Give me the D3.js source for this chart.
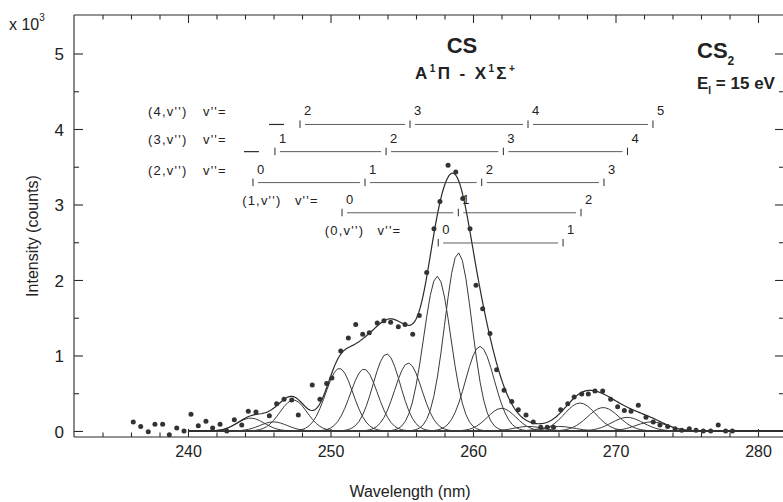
<!DOCTYPE html>
<html>
<head>
<meta charset="utf-8">
<script src="https://cdn.jsdelivr.net/npm/d3@7"></script>
<style>
  body { margin: 0; background: #fff; }
  svg { display: block; }
  text { font-family: "Liberation Sans", Arial, Helvetica, sans-serif; fill: #222; }
</style>
</head>
<body>
<svg id="chart" width="783" height="502"></svg>
<script>
// Measured emission spectrum: wavelength (nm) and intensity (x10^3 counts)
const wavelengths = [
  236.16, 236.68, 237.21, 237.68, 238.22, 238.69, 239.21, 239.72, 240.21, 240.72,
  241.26, 241.73, 242.25, 242.72, 243.25, 243.77, 244.23, 244.77, 245.71, 246.22,
  246.74, 247.28, 247.74, 248.72, 249.26, 249.73, 250.10, 250.72, 251.25, 251.77,
  252.26, 252.72, 253.28, 253.75, 254.22, 254.76, 255.23, 255.77, 256.23, 256.75,
  257.26, 257.68, 258.25, 258.79, 259.28, 259.79, 260.21, 260.68, 261.19, 261.66,
  262.18, 262.72, 263.18, 263.72, 264.23, 264.75, 265.21, 265.65, 266.15, 266.65,
  267.10, 267.63, 268.09, 268.56, 269.10, 269.66, 270.15, 270.62, 271.09, 271.60,
  272.14, 272.65, 273.12, 273.66, 274.18, 274.65, 275.18, 275.65, 276.16, 276.68,
  277.21, 277.73, 278.20
];
const counts = [
  0.12, 0.06, -0.01, 0.09, 0.09, -0.05, 0.04, 0.00, 0.22, 0.07,
  0.13, 0.04, 0.09, 0.00, 0.15, 0.08, 0.26, 0.25, 0.20, 0.36,
  0.42, 0.41, 0.21, 0.61, 0.42, 0.63, 0.70, 1.06, 1.23, 1.41,
  1.28, 1.30, 1.43, 1.46, 1.44, 1.38, 1.41, 1.28, 1.53, 2.10,
  2.68, 3.04, 3.52, 3.43, 3.08, 2.68, 1.93, 1.62, 1.29, 0.81,
  0.54, 0.39, 0.28, 0.21, 0.12, 0.05, 0.05, 0.05, 0.28, 0.36,
  0.45, 0.49, 0.49, 0.53, 0.53, 0.42, 0.32, 0.27, 0.26, 0.34,
  0.18, 0.12, 0.08, 0.06, 0.03, 0.01, 0.03, 0.01, 0.00, 0.00,
  0.08, 0.00, 0.00
];

// Gaussian band components of the fit: centre (nm), peak height, sigma (nm)
const bandCenters = [244.4, 246.0, 247.4, 250.62, 252.35, 253.94, 255.46, 257.49, 258.97, 260.49, 262.01, 263.9, 266.0, 267.51, 269.14, 270.83, 272.54];
const bandHeights = [0.17, 0.12, 0.41, 0.83, 0.82, 1.02, 0.90, 2.05, 2.36, 1.12, 0.30, 0.06, 0.06, 0.37, 0.31, 0.18, 0.12];
const bandSigmas  = [0.95, 0.95, 0.95, 0.95, 0.95, 0.95, 0.95, 0.95, 0.95, 1.0, 1.0, 1.0, 1.1, 1.1, 1.1, 1.1, 1.1];

// A1Pi - X1Sigma+ progressions (v', v''): band-head wavelengths and v'' numbers
const headsV4 = [247.86, 255.58, 263.86, 272.63];
const vppV4   = [2, 3, 4, 5];
const headsV3 = [246.10, 253.90, 262.13, 270.84];
const vppV3   = [1, 2, 3, 4];
const headsV2 = [244.56, 252.42, 260.61, 269.19];
const vppV2   = [0, 1, 2, 3];
const headsV1 = [250.81, 258.97, 267.58];
const vppV1   = [0, 1, 2];
const headsV0 = [257.56, 266.32];
const vppV0   = [0, 1];

const xTickLabels = [240, 250, 260, 270, 280];
const yTickLabels = [0, 1, 2, 3, 4, 5];

const svg = d3.select("#chart");
const plotLeft = 74, plotRight = 784, plotTop = 15, plotBottom = 437;

const x = d3.scaleLinear().domain([232, 282]).range([plotLeft, plotLeft + 50 * 14.25]);
const y = d3.scaleLinear().domain([-0.08, 5.51]).range([plotBottom, plotTop]);

const ink = "#2a2a2a";

// ---- frame and ticks ----
const frame = svg.append("g").attr("stroke", ink).attr("fill", "none").attr("stroke-width", 1.1);
frame.append("line").attr("x1", plotLeft).attr("x2", plotLeft).attr("y1", plotTop).attr("y2", plotBottom);
frame.append("line").attr("x1", plotLeft).attr("x2", plotRight).attr("y1", plotBottom).attr("y2", plotBottom);
frame.append("line").attr("x1", plotLeft).attr("x2", plotRight).attr("y1", plotTop).attr("y2", plotTop);
frame.append("line").attr("x1", plotRight).attr("x2", plotRight).attr("y1", plotTop).attr("y2", plotBottom);

const xMinor = d3.range(234, 282, 2).filter(v => v % 10 !== 0);
const yMinor = d3.range(0.5, 5.5, 1);

// bottom axis (ticks inward)
svg.append("g").attr("transform", `translate(0,${plotBottom})`)
  .call(d3.axisBottom(x).tickValues(xMinor).tickSize(-4.5).tickFormat(""));
const gxbm = svg.append("g").attr("transform", `translate(0,${plotBottom})`);
gxbm.call(d3.axisBottom(x).tickValues(xTickLabels).tickSize(-8).tickFormat(d => d).tickPadding(9));
// top axis (ticks inward)
svg.append("g").attr("transform", `translate(0,${plotTop})`)
  .call(d3.axisTop(x).tickValues(xMinor).tickSize(-4.5).tickFormat(""));
svg.append("g").attr("transform", `translate(0,${plotTop})`)
  .call(d3.axisTop(x).tickValues(xTickLabels).tickSize(-8).tickFormat(""));
// left axis (ticks inward)
svg.append("g").attr("transform", `translate(${plotLeft},0)`)
  .call(d3.axisLeft(y).tickValues(yMinor).tickSize(-5).tickFormat(""));
const gyl = svg.append("g").attr("transform", `translate(${plotLeft},0)`);
gyl.call(d3.axisLeft(y).tickValues(yTickLabels).tickSize(-9).tickFormat(d => d).tickPadding(10));
// right axis (ticks inward)
svg.append("g").attr("transform", `translate(${plotRight},0)`)
  .call(d3.axisRight(y).tickValues(yMinor).tickSize(-5).tickFormat(""));
svg.append("g").attr("transform", `translate(${plotRight},0)`)
  .call(d3.axisRight(y).tickValues(yTickLabels).tickSize(-9).tickFormat(""));

svg.selectAll(".domain").remove();
svg.selectAll(".tick line").attr("stroke", ink).attr("stroke-width", 1.1);
gxbm.selectAll(".tick text").attr("font-size", 16).attr("fill", "#222")
  .attr("font-family", "Liberation Sans, Arial, sans-serif");
gyl.selectAll(".tick text").attr("font-size", 17).attr("fill", "#222")
  .attr("font-family", "Liberation Sans, Arial, sans-serif").attr("dy", "0.36em");

// ---- axis titles ----
svg.append("text").attr("x", 410).attr("y", 497).attr("text-anchor", "middle")
  .attr("font-size", 16).text("Wavelength (nm)");
svg.append("text").attr("transform", "translate(38,236) rotate(-90)").attr("text-anchor", "middle")
  .attr("font-size", 16).text("Intensity (counts)");
const mult = svg.append("text").attr("x", 9).attr("y", 30).attr("font-size", 16);
mult.append("tspan").text("x 10");
mult.append("tspan").attr("font-size", 10).attr("dy", -9).text("3");

// ---- fit components ----
const gauss = (c, h, s) => v => h * Math.exp(-((v - c) ** 2) / (2 * s * s));
const comps = bandCenters.map((c, i) => gauss(c, bandHeights[i], bandSigmas[i]));
const compGrid = d3.range(240, 282.001, 0.25);
const fitGrid = d3.range(240, 282.001, 0.1);
const line = d3.line().x(d => x(d[0])).y(d => y(d[1]));

const plot = svg.append("g");
comps.forEach(f => {
  plot.append("path")
    .attr("d", line(compGrid.map(v => [v, f(v)])))
    .attr("fill", "none").attr("stroke", "#3a3a3a").attr("stroke-width", 1);
});
plot.append("path")
  .attr("d", line(fitGrid.map(v => [v, d3.sum(comps, f => f(v))])))
  .attr("fill", "none").attr("stroke", "#2a2a2a").attr("stroke-width", 1.2);

// ---- measured points ----
plot.selectAll("circle.pt").data(wavelengths).join("circle")
  .attr("class", "pt")
  .attr("cx", d => x(d))
  .attr("cy", (d, i) => y(counts[i]))
  .attr("r", 2.5)
  .attr("fill", "#333");

// ---- progression rulers ----
const rows = [
  { vp: 4, heads: headsV4, vpp: vppV4, level: 4.06, lead: true, hx: [237.2, 241.05] },
  { vp: 3, heads: headsV3, vpp: vppV3, level: 3.70, lead: true, hx: [237.2, 241.05] },
  { vp: 2, heads: headsV2, vpp: vppV2, level: 3.29, lead: false, hx: [237.2, 241.05] },
  { vp: 1, heads: headsV1, vpp: vppV1, level: 2.89, lead: false, hx: [243.8, 247.5] },
  { vp: 0, heads: headsV0, vpp: vppV0, level: 2.49, lead: false, hx: [249.6, 253.3] }
];
const ann = svg.append("g");
rows.forEach(r => {
  const ly = y(r.level);
  ann.append("text").attr("x", x(r.hx[0])).attr("y", ly - 8)
    .attr("font-size", 13).attr("letter-spacing", 1.2).text(`(${r.vp},v'')`);
  ann.append("text").attr("x", x(r.hx[1])).attr("y", ly - 8)
    .attr("font-size", 13).attr("letter-spacing", 1.2).text("v''=");
  if (r.lead) {
    const x0 = x(r.heads[0]);
    ann.append("line").attr("x1", x0 - 31).attr("x2", x0 - 16).attr("y1", ly).attr("y2", ly)
      .attr("stroke", ink).attr("stroke-width", 1.2);
  }
  r.heads.forEach((h, i) => {
    const hx = x(h);
    ann.append("line").attr("x1", hx).attr("x2", hx).attr("y1", ly - 4).attr("y2", ly + 3.5)
      .attr("stroke", ink).attr("stroke-width", 1);
    ann.append("text").attr("x", hx + 4).attr("y", ly - 9).attr("font-size", 13).text(r.vpp[i]);
    if (i < r.heads.length - 1) {
      ann.append("line").attr("x1", hx + 5).attr("x2", x(r.heads[i + 1]) - 5)
        .attr("y1", ly).attr("y2", ly).attr("stroke", "#4a4a55").attr("stroke-width", 0.9);
    }
  });
});

// ---- titles ----
svg.append("text").attr("x", 462).attr("y", 53).attr("text-anchor", "middle")
  .attr("font-size", 22).attr("font-weight", "bold").text("CS");
const st = svg.append("text").attr("x", 415).attr("y", 79).attr("font-size", 17)
  .attr("font-weight", "bold").attr("letter-spacing", 2.4);
st.append("tspan").text("A");
st.append("tspan").attr("font-size", 10).attr("dy", -7).text("1");
st.append("tspan").attr("dy", 7).text("Π - X");
st.append("tspan").attr("font-size", 10).attr("dy", -7).text("1");
st.append("tspan").attr("dy", 7).text("Σ");
st.append("tspan").attr("font-size", 10).attr("dy", -7).text("+");

const cs2 = svg.append("text").attr("x", 697).attr("y", 58).attr("font-size", 22).attr("font-weight", "bold");
cs2.append("tspan").text("CS");
cs2.append("tspan").attr("font-size", 12).attr("dy", 7).text("2");

const ei = svg.append("text").attr("x", 697).attr("y", 89).attr("font-size", 17).attr("font-weight", "bold");
ei.append("tspan").text("E");
ei.append("tspan").attr("font-size", 10).attr("dy", 5).text("I");
ei.append("tspan").attr("dy", -5).text(" = 15 eV");
</script>
</body>
</html>
